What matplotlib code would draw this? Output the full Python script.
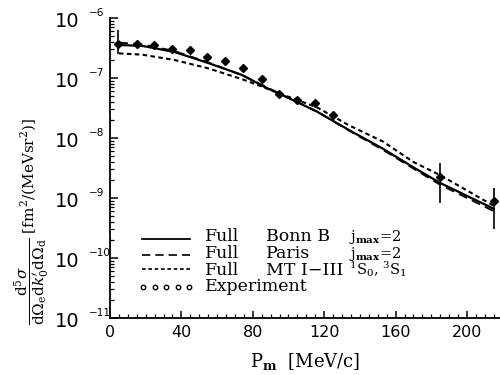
import numpy as np
import matplotlib
matplotlib.use("Agg")
import matplotlib.pyplot as plt
import matplotlib.transforms as mtransforms
from matplotlib.lines import Line2D
from matplotlib.ticker import MultipleLocator, LogLocator, NullFormatter

# --- data ---
# experiment points
p_exp = [4.5, 15.1, 24.6, 34.7, 44.8, 54.3, 64.4, 74.5, 85.0, 94.8, 104.6, 114.8, 124.8, 184.9, 215.3]
xs_exp = [3.63e-7, 3.63e-7, 3.49e-7, 3.02e-7, 2.95e-7, 2.24e-7, 1.91e-7, 1.48e-7,
          9.8e-8, 5.5e-8, 4.27e-8, 3.89e-8, 2.4e-8, 2.26e-9, 8.9e-10]
# error bar ends (only three points have visible bars)
err_hi = [6.2e-7, None, None, None, None, None, None, None, None, None, None, None, None, 3.8e-9, 1.45e-9]
err_lo = [2.5e-7, None, None, None, None, None, None, None, None, None, None, None, None, 8.1e-10, 3.1e-10]

# Full Bonn B, jmax=2
p_bonn = [5, 18, 36, 55, 74, 88, 97, 116, 134, 153, 170, 185, 215]
xs_bonn = [3.55e-7, 3.43e-7, 2.72e-7, 1.78e-7, 1.12e-7, 6.76e-8, 5.13e-8,
           2.75e-8, 1.35e-8, 6.61e-9, 3.24e-9, 1.78e-9, 6.61e-10]

# Full Paris, jmax=2
p_paris = [5, 18, 36, 55, 74, 97, 116, 134, 153, 170, 185, 215]
xs_paris = [3.89e-7, 3.63e-7, 2.82e-7, 1.82e-7, 1.12e-7, 5.13e-8, 2.75e-8,
            1.32e-8, 6.31e-9, 3.09e-9, 1.66e-9, 6.03e-10]

# Full MT I-III, 1S0 3S1
p_mt = [5, 18, 36, 55, 74, 83, 97, 116, 134, 153, 170, 185, 215]
xs_mt = [2.57e-7, 2.45e-7, 2.0e-7, 1.45e-7, 9.55e-8, 7.59e-8, 5.25e-8,
         3.24e-8, 1.62e-8, 8.71e-9, 3.98e-9, 2.40e-9, 7.41e-10]

x_ticks = [0, 40, 80, 120, 160, 200]
y_exps = [-6, -7, -8, -9, -10, -11]

plt.rcParams["mathtext.fontset"] = "dejavuserif"

fig = plt.figure(figsize=(5, 3.75), dpi=100)
ax = fig.add_axes([0.22, 0.152, 0.78, 0.8])

# theory curves
ax.plot(p_bonn, xs_bonn, color="black", lw=1.6, ls="-")
ax.plot(p_paris, xs_paris, color="black", lw=1.3, ls=(0, (5, 3)))
ax.plot(p_mt, xs_mt, color="black", lw=1.5, ls=(0, (2.2, 1.6)))

# experiment
ax.plot(p_exp, xs_exp, ls="none", marker="D", ms=3.6, color="black")
for p, lo, hi in zip(p_exp, err_lo, err_hi):
    if lo is not None:
        ax.vlines(p, lo, hi, color="black", lw=1.2)

ax.set_yscale("log")
ax.set_xlim(0, 218.5)
ax.set_ylim(1e-11, 1e-6)

# axes look
ax.spines["top"].set_visible(False)
ax.spines["right"].set_visible(False)
ax.spines["left"].set_linewidth(1.3)
ax.spines["bottom"].set_linewidth(1.3)

ax.set_xticks(x_ticks)
ax.xaxis.set_minor_locator(MultipleLocator(5))
ax.tick_params(axis="x", which="major", direction="in", length=5, width=1.1,
               labelsize=11.5, pad=5)
ax.tick_params(axis="x", which="minor", direction="in", length=3, width=0.9)

ax.yaxis.set_major_locator(LogLocator(base=10, numticks=10))
ax.yaxis.set_minor_locator(LogLocator(base=10, subs=np.arange(2, 10), numticks=20))
ax.yaxis.set_major_formatter(NullFormatter())
ax.yaxis.set_minor_formatter(NullFormatter())
ax.tick_params(axis="y", which="major", direction="in", length=6, width=1.1)
ax.tick_params(axis="y", which="minor", direction="in", length=3, width=0.9)

# y tick labels written as "10" plus a small raised exponent
trans = mtransforms.blended_transform_factory(ax.transAxes, ax.transData)
for e in y_exps:
    t_base = mtransforms.offset_copy(trans, fig=fig, x=0, y=-2.2, units="points")
    ax.text(-0.077, 10.0 ** e, "10", transform=t_base, ha="right", va="center",
            fontsize=14, family="DejaVu Sans")
    t_exp = mtransforms.offset_copy(trans, fig=fig, x=0, y=1.5, units="points")
    ax.text(-0.054, 10.0 ** e, "\u2212" + str(-e), transform=t_exp, ha="left",
            va="baseline", fontsize=7.5, family="DejaVu Sans")

ax.set_xlabel(r"P$_\mathbf{m}$  [MeV/c]", fontsize=13, family="DejaVu Serif", labelpad=8)

fig.text(0.064, 0.41,
         r"$\dfrac{\mathrm{d}^5\sigma}{\mathrm{d}\Omega_\mathrm{e}\mathrm{d}k_0^{\prime}\mathrm{d}\Omega_\mathrm{d}}$"
         r" [fm$^2$/(MeVsr$^2$)]",
         rotation=90, ha="center", va="center", fontsize=11, family="DejaVu Serif")

# legend drawn by hand (handles + three text columns)
def fx(px):
    return px / 500.0

def fy(py):
    return 1 - py / 375.0

rows_y = [239, 255, 269, 287]
base_y = [241, 258, 275, 291]
styles = ["-", (0, (5, 3)), (0, (2.2, 1.6))]
widths = [1.3, 1.2, 1.2]
for ry, st, w in zip(rows_y[:3], styles, widths):
    fig.add_artist(Line2D([fx(142), fx(190)], [fy(ry), fy(ry)], color="black",
                          lw=w, ls=st, transform=fig.transFigure))
fig.add_artist(Line2D(np.linspace(fx(143), fx(189), 5), [fy(rows_y[3])] * 5, ls="none",
                      marker="o", ms=3.2, mfc="white", mec="black", mew=1.0,
                      transform=fig.transFigure))

col1 = ["Full", "Full", "Full", "Experiment"]
col2 = ["Bonn B", "Paris", "MT I\u2212III"]
col3 = [r"j$_\mathbf{max}$=2", r"j$_\mathbf{max}$=2", r"$^1$S$_0$, $^3$S$_1$"]
for by, t in zip(base_y, col1):
    fig.text(fx(205), fy(by), t, ha="left", va="baseline", fontsize=12.5, family="DejaVu Serif")
for by, t in zip(base_y[:3], col2):
    fig.text(fx(266), fy(by), t, ha="left", va="baseline", fontsize=12.5, family="DejaVu Serif")
for by, t in zip(base_y[:3], col3):
    fig.text(fx(349), fy(by), t, ha="left", va="baseline", fontsize=10.5, family="DejaVu Serif")

fig.savefig("out.png", dpi=100)
